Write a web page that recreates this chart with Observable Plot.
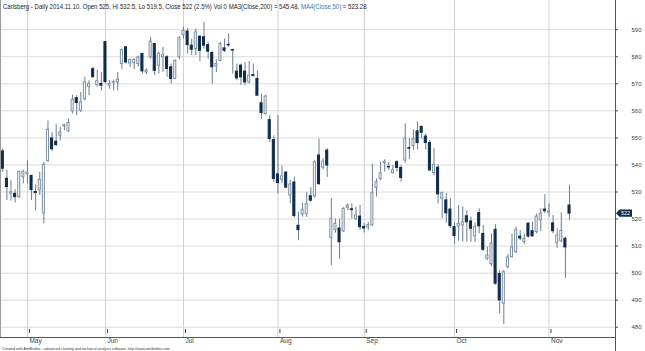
<!DOCTYPE html>
<html><head><meta charset="utf-8">
<script src="https://cdn.jsdelivr.net/npm/d3@7"></script>
<script src="https://cdn.jsdelivr.net/npm/@observablehq/plot@0.6"></script>
<style>body{margin:0;background:#fff}#chart svg{display:block}</style>
</head><body><div id="chart"></div>
<script>
const dates = [
"2014-04-23","2014-04-24","2014-04-25","2014-04-28","2014-04-29","2014-04-30",
"2014-05-01","2014-05-02","2014-05-05","2014-05-06","2014-05-07","2014-05-08","2014-05-09","2014-05-12","2014-05-13","2014-05-14","2014-05-15","2014-05-19","2014-05-20","2014-05-21","2014-05-22","2014-05-23","2014-05-26","2014-05-27","2014-05-28",
"2014-06-02","2014-06-03","2014-06-04","2014-06-06","2014-06-10","2014-06-11","2014-06-12","2014-06-13","2014-06-16","2014-06-17","2014-06-18","2014-06-19","2014-06-20","2014-06-23","2014-06-24","2014-06-25","2014-06-26","2014-06-27","2014-06-30",
"2014-07-01","2014-07-02","2014-07-03","2014-07-04","2014-07-07","2014-07-08","2014-07-09","2014-07-10","2014-07-11","2014-07-14","2014-07-15","2014-07-16","2014-07-17","2014-07-18","2014-07-21","2014-07-22","2014-07-23","2014-07-24","2014-07-25","2014-07-28","2014-07-29","2014-07-30","2014-07-31",
"2014-08-01","2014-08-04","2014-08-05","2014-08-06","2014-08-07","2014-08-08","2014-08-11","2014-08-12","2014-08-13","2014-08-14","2014-08-15","2014-08-18","2014-08-19","2014-08-20","2014-08-21","2014-08-22","2014-08-25","2014-08-26","2014-08-27","2014-08-28","2014-08-29",
"2014-09-01","2014-09-02","2014-09-03","2014-09-04","2014-09-05","2014-09-08","2014-09-09","2014-09-10","2014-09-11","2014-09-12","2014-09-15","2014-09-16","2014-09-17","2014-09-18","2014-09-19","2014-09-22","2014-09-23","2014-09-24","2014-09-25","2014-09-26","2014-09-29","2014-09-30",
"2014-10-01","2014-10-02","2014-10-03","2014-10-06","2014-10-07","2014-10-08","2014-10-09","2014-10-10","2014-10-13","2014-10-14","2014-10-15","2014-10-16","2014-10-17","2014-10-20","2014-10-21","2014-10-22","2014-10-23","2014-10-24","2014-10-27","2014-10-28","2014-10-29","2014-10-30","2014-10-31",
"2014-11-03","2014-11-04","2014-11-05","2014-11-06","2014-11-07","2014-11-10"];

const opens = [545.0,534.9,529.4,529.3,528.1,535.4,
536.5,535.9,530.0,530.6,522.1,541.5,549.8,548.6,550.8,554.3,552.6,559.8,564.7,560.0,564.3,568.9,575.4,569.5,570.0,
585.4,569.3,570.4,570.5,577.3,583.5,577.5,577.6,577.3,581.0,574.2,579.8,584.7,576.7,579.8,579.8,576.1,571.8,579.8,
588.0,589.3,584.1,582.8,587.4,587.2,584.3,581.4,576.4,578.5,583.1,584.4,582.5,574.5,576.7,574.5,570.5,573.2,571.8,562.8,558.8,556.6,549.2,
536.5,534.5,537.2,528.7,533.5,517.5,521.7,521.8,528.4,528.4,543.5,539.0,545.3,513.0,516.0,516.5,515.4,524.1,523.6,520.0,520.9,
517.1,516.9,517.6,531.5,534.8,540.7,539.3,537.0,541.0,538.9,541.6,546.2,547.0,552.4,554.0,550.5,548.1,537.0,539.0,527.5,526.9,523.5,
517.0,517.2,517.6,521.0,519.1,513.6,522.2,514.5,505.3,503.3,516.0,499.7,488.7,502.2,505.9,507.7,513.5,511.5,518.3,515.5,515.2,519.5,523.5,
522.4,518.4,511.0,511.8,512.7,525.0];

const highs = [546.0,538.0,534.2,530.9,537.8,538.0,
541.5,536.2,532.7,537.3,541.0,556.3,552.0,555.0,553.9,555.1,556.9,565.8,565.6,566.8,572.4,571.1,576.1,575.0,574.2,
585.6,571.1,571.4,574.2,582.8,583.7,579.1,579.3,580.2,581.3,575.5,587.2,584.9,581.6,583.5,580.4,577.3,578.8,587.5,
590.9,590.5,586.5,590.2,587.8,592.7,585.3,581.9,578.9,585.3,586.5,588.4,582.8,577.3,577.3,577.9,578.2,577.3,574.8,566.2,565.8,558.2,550.8,
558.2,539.6,537.4,534.3,535.5,522.5,525.9,529.7,531.6,541.6,549.5,542.3,546.0,527.5,520.0,520.0,524.3,525.6,525.6,524.3,525.0,
518.3,518.8,540.2,534.8,541.0,541.9,541.0,539.8,541.6,539.8,555.2,549.7,553.0,555.8,554.5,551.5,549.0,546.0,540.0,530.0,529.5,527.7,
518.5,525.0,524.5,523.0,520.7,518.5,523.8,517.6,509.6,514.5,518.0,501.0,501.0,506.9,514.4,517.0,515.7,514.5,518.6,518.8,521.9,523.8,529.0,
525.6,521.3,516.4,522.3,513.3,532.5];

const lows = [537.3,526.8,526.6,525.9,527.6,533.0,
533.0,526.8,523.1,528.7,518.2,540.9,545.0,546.9,548.9,552.7,552.0,558.8,558.2,559.4,563.7,565.6,572.4,568.8,567.4,
570.0,568.0,567.4,567.4,575.4,577.3,576.0,575.3,576.2,573.6,573.4,579.1,573.0,573.6,574.2,572.4,569.9,571.5,578.9,
586.5,581.0,580.4,580.4,578.2,582.8,579.1,569.9,574.2,578.2,581.6,583.5,573.6,571.1,569.3,569.3,570.0,572.4,565.6,557.0,558.4,548.3,533.5,
529.3,533.0,531.2,525.6,520.4,512.0,520.7,520.6,526.2,527.8,532.4,538.2,535.4,502.8,514.8,505.2,515.1,523.1,520.0,519.4,515.8,
514.8,515.8,517.2,528.1,534.2,537.4,538.0,536.7,537.4,533.6,540.6,542.0,545.5,545.6,549.5,545.5,537.4,536.0,525.6,520.1,518.5,516.5,
510.6,511.8,511.5,511.5,511.4,511.4,514.5,508.1,504.7,502.4,495.5,484.9,481.0,501.6,505.6,507.3,512.0,510.7,513.0,513.3,514.5,515.4,521.9,
520.7,514.5,509.1,511.1,498.1,519.5];

const closes = [538.6,531.8,529.9,528.1,537.4,537.5,
537.2,530.7,529.6,534.5,540.0,553.0,545.8,547.3,552.0,554.7,555.5,564.1,562.9,563.1,570.5,569.9,572.4,571.0,569.3,
570.6,570.0,570.6,571.5,582.5,577.9,578.8,578.8,579.8,574.6,574.9,585.6,574.8,581.0,580.6,575.5,571.8,578.5,586.8,
589.6,584.3,582.6,589.0,582.2,584.1,581.9,576.1,577.3,584.7,582.2,584.2,582.3,572.0,572.4,570.5,573.0,572.9,565.6,559.2,565.3,549.6,534.8,
533.3,535.8,531.6,532.8,521.1,515.9,523.4,525.5,526.8,541.0,532.9,541.2,539.8,520.0,518.2,511.4,523.7,524.9,523.3,521.3,517.0,
516.5,517.8,529.6,533.6,536.9,541.2,539.1,538.0,538.9,535.2,549.7,546.0,549.5,548.1,551.9,548.1,538.0,540.0,529.1,529.6,522.1,517.4,
513.7,518.2,518.8,518.8,516.4,517.1,517.3,508.6,506.5,510.9,496.1,489.9,500.3,505.8,509.5,515.9,512.8,512.7,513.5,513.6,520.9,522.0,522.9,
522.7,515.5,513.9,515.6,509.5,522.0];

const yTicks = [480,490,500,510,520,530,540,550,560,570,580,590];
const monthLabels = ["May","Jun","Jul","Aug","Sep","Oct","Nov"];
const titleMain = "Carlsberg - Daily 2014.11.10. Open 525, Hi 532.5, Lo 519.5, Close 522 (2.5%) Vol 0 MA3(Close,200) = 545.48, ";
const titleMA = "MA4(Close,50)";
const titleEnd = " = 523.28";
const credit = "Created with AmiBroker - advanced charting and technical analysis software. http://www.amibroker.com";
const lastClose = 522;

const DARK = "#0f2c4c", HOLLOW = "#7d90a5", WICK = "#6a7d92";
const data = dates.map((d, i) => ({i, date: d, open: opens[i], high: highs[i], low: lows[i], close: closes[i], down: closes[i] < opens[i]}));
const monthIdx = dates.map((d, i) => i).filter(i => i > 0 && dates[i].slice(5, 7) !== dates[i - 1].slice(5, 7));

const plot = Plot.plot({
  width: 645, height: 351,
  marginTop: 0, marginBottom: 14, marginLeft: 0, marginRight: 30,
  style: {fontFamily: "'Liberation Sans', Arial, sans-serif", background: "#fff", overflow: "visible"},
  x: {type: "linear", domain: [-0.56, 149.2]},
  y: {domain: [476.2, 600.8]},
  marks: [
    Plot.gridY(yTicks, {stroke: "#dadada", strokeOpacity: 1}),
    Plot.gridX(monthIdx, {stroke: "#d0d0d0", strokeOpacity: 1}),
    Plot.ruleX(data, {x: "i", y1: "low", y2: "high", stroke: WICK, strokeWidth: 1}),
    Plot.rect(data, {x1: d => d.i - 0.25, x2: d => d.i + 0.25, y1: "open", y2: "close",
      fill: d => d.down ? DARK : "#ffffff", stroke: d => d.down ? DARK : HOLLOW, strokeWidth: 1}),
    Plot.axisY(yTicks, {anchor: "right", tickSize: 2, tickPadding: 14, fontSize: 6, color: "#444", label: null}),
    Plot.axisX(monthIdx, {anchor: "bottom", tickSize: 4, tickFormat: d => monthLabels[monthIdx.indexOf(d)],
      textAnchor: "start", dx: 2, dy: -8, fontSize: 6.5, color: "#444", label: null})
  ]
});
document.getElementById("chart").appendChild(plot);

const svg = d3.select(plot);
const xs = plot.scale("x"), ys = plot.scale("y");
const xR = xs.apply(xs.domain[1]), x0 = xs.apply(xs.domain[0]);
const yB = ys.apply(ys.domain[0]);
svg.append("line").attr("x1", x0 + 0.5).attr("x2", x0 + 0.5).attr("y1", 0).attr("y2", yB).attr("stroke", "#9a9a9a");
svg.append("line").attr("x1", x0).attr("x2", xR).attr("y1", yB + 0.5).attr("y2", yB + 0.5).attr("stroke", "#555");
svg.append("line").attr("x1", xR + 0.5).attr("x2", xR + 0.5).attr("y1", 0).attr("y2", 351).attr("stroke", "#555");

const yv = ys.apply(lastClose);
svg.append("polygon")
  .attr("points", [[xR + 1, yv], [xR + 4.5, yv - 3.6], [xR + 17, yv - 3.6], [xR + 17, yv + 3.6], [xR + 4.5, yv + 3.6]].map(p => p.join(",")).join(" "))
  .attr("fill", DARK);
svg.append("text").attr("x", xR + 10.5).attr("y", yv).attr("dy", "0.35em").attr("text-anchor", "middle")
  .attr("font-size", 5.5).attr("fill", "#fff").text(String(lastClose));

// title: one text element, horizontally condensed with a transform
const tg = svg.append("g");
const t = tg.append("text").attr("x", 0).attr("y", 0).attr("text-anchor", "start")
  .attr("font-size", 6.8).attr("fill", "#222");
t.append("tspan").text(titleMain);
t.append("tspan").attr("fill", "#3f73b8").text(titleMA);
t.append("tspan").text(titleEnd);
const tw = t.node().getComputedTextLength();
tg.attr("transform", `translate(3,8.8) scale(${364 / tw},1)`);

const cg = svg.append("g");
const c = cg.append("text").attr("x", 0).attr("y", 0).attr("text-anchor", "start")
  .attr("font-size", 4.2).attr("fill", "#333").text(credit);
const cw = c.node().getComputedTextLength();
cg.attr("transform", `translate(2,349.5) scale(${168 / cw},1)`);
</script>
</body></html>
